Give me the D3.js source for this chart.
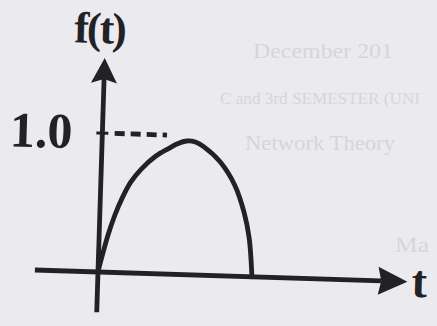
<!DOCTYPE html>
<html>
<head>
<meta charset="utf-8">
<script src="https://cdn.jsdelivr.net/npm/d3@7"></script>
<style>
  body { margin: 0; background: #ebeaef; }
  svg { display: block; }
</style>
</head>
<body>
<div id="chart"></div>
<script>
// pulse (t in pulse widths, f in units of the 1.0 level)
const tValues = [0, 0.02, 0.058, 0.097, 0.143, 0.195, 0.26, 0.35, 0.435, 0.49, 0.55, 0.61, 0.66, 0.77, 0.87, 0.935, 0.974, 1]
const fValues = [0, 0.10, 0.27, 0.41, 0.54, 0.655, 0.75, 0.845, 0.905, 0.94, 0.962, 0.955, 0.925, 0.82, 0.655, 0.465, 0.28, 0]
const yTicks = [1.0]
const ghostLines = ["December 201", "C and 3rd SEMESTER (UNI", "Network Theory", "Ma"]

const width = 437
const height = 326
const ink = '#222226'
const origin = {x: 98, y: 272}

const x = d3.scaleLinear()
    .domain([0, 1])
    .range([origin.x, origin.x + 154])

const y = d3.scaleLinear()
    .domain([0, 1])
    .range([origin.y, origin.y - 139])

const svg = d3.select('#chart').append('svg')
    .attr('width', width)
    .attr('height', height)
    .attr('viewBox', [0, 0, width, height])

// faint show-through from the back of the page
const ghostPos = [[253, 58, 140, 22], [220, 104, 200, 17], [245, 150, 150, 22], [395, 252, 34, 22]]
svg.append('g')
    .attr('fill', '#d6d5dc')
    .attr('font-family', 'Liberation Serif, serif')
  .selectAll('text')
  .data(ghostLines)
  .join('text')
    .attr('x', (d, i) => ghostPos[i][0])
    .attr('y', (d, i) => ghostPos[i][1])
    .attr('font-size', (d, i) => ghostPos[i][3])
    .attr('textLength', (d, i) => ghostPos[i][2])
    .attr('lengthAdjust', 'spacingAndGlyphs')
    .text(d => d)

// the scan is a little tilted
const g = svg.append('g')
    .attr('transform', `rotate(1.8, ${origin.x}, ${origin.y})`)

// axes
g.append('line')
    .attr('x1', x(-0.41)).attr('y1', y(0))
    .attr('x2', x(1.84)).attr('y2', y(0))
    .attr('stroke', ink).attr('stroke-width', 4.8)

g.append('line')
    .attr('x1', x(0)).attr('y1', y(-0.29))
    .attr('x2', x(0)).attr('y2', y(1.4))
    .attr('stroke', ink).attr('stroke-width', 4.8)

// arrow heads
g.append('path')
    .attr('d', `M${x(2.01)},${y(0)} L${x(1.82)},${y(0) - 14} L${x(1.84)},${y(0)} L${x(1.82)},${y(0) + 14} Z`)
    .attr('fill', ink)

g.append('path')
    .attr('d', `M${x(0)},${y(1.54)} L${x(0) - 13},${y(1.36)} L${x(0)},${y(1.39)} L${x(0) + 13},${y(1.36)} Z`)
    .attr('fill', ink)

// tick + dashed guide at 1.0
g.selectAll('.tick')
  .data(yTicks)
  .join('line')
    .attr('class', 'tick')
    .attr('x1', x(0) - 6).attr('x2', x(0) + 6)
    .attr('y1', d => y(d)).attr('y2', d => y(d))
    .attr('stroke', ink).attr('stroke-width', 3)

g.selectAll('.guide')
  .data(yTicks)
  .join('line')
    .attr('class', 'guide')
    .attr('x1', x(0.08)).attr('x2', x(0.42))
    .attr('y1', d => y(d)).attr('y2', d => y(d))
    .attr('stroke', ink).attr('stroke-width', 4.8)
    .attr('stroke-dasharray', '10,6')

// the pulse
const pts = tValues.map((t, i) => [t, fValues[i]])
const line = d3.line()
    .x(d => x(d[0]))
    .y(d => y(d[1]))
    .curve(d3.curveCatmullRom.alpha(0.5))

g.append('path')
    .datum(pts)
    .attr('d', line)
    .attr('fill', 'none')
    .attr('stroke', ink)
    .attr('stroke-width', 4.8)
    .attr('stroke-linecap', 'round')

// labels
const font = 'Liberation Serif, Times New Roman, serif'
g.selectAll('.ylab')
  .data(yTicks)
  .join('text')
    .attr('class', 'ylab')
    .attr('x', 68)
    .attr('y', d => y(d) + 16)
    .attr('text-anchor', 'end')
    .attr('font-family', font)
    .attr('font-weight', 'bold')
    .attr('font-size', 50)
    .attr('fill', ink)
    .text(d => d.toFixed(1))

g.append('text')
    .attr('x', x(0) - 6)
    .attr('y', 43)
    .attr('text-anchor', 'middle')
    .attr('font-family', font)
    .attr('font-weight', 'bold')
    .attr('font-size', 44)
    .attr('letter-spacing', -2)
    .attr('fill', ink)
    .text('f(t)')

g.append('text')
    .attr('x', 412)
    .attr('y', 287)
    .attr('font-family', font)
    .attr('font-weight', 'bold')
    .attr('font-size', 46)
    .attr('fill', ink)
    .text('t')
</script>
</body>
</html>
